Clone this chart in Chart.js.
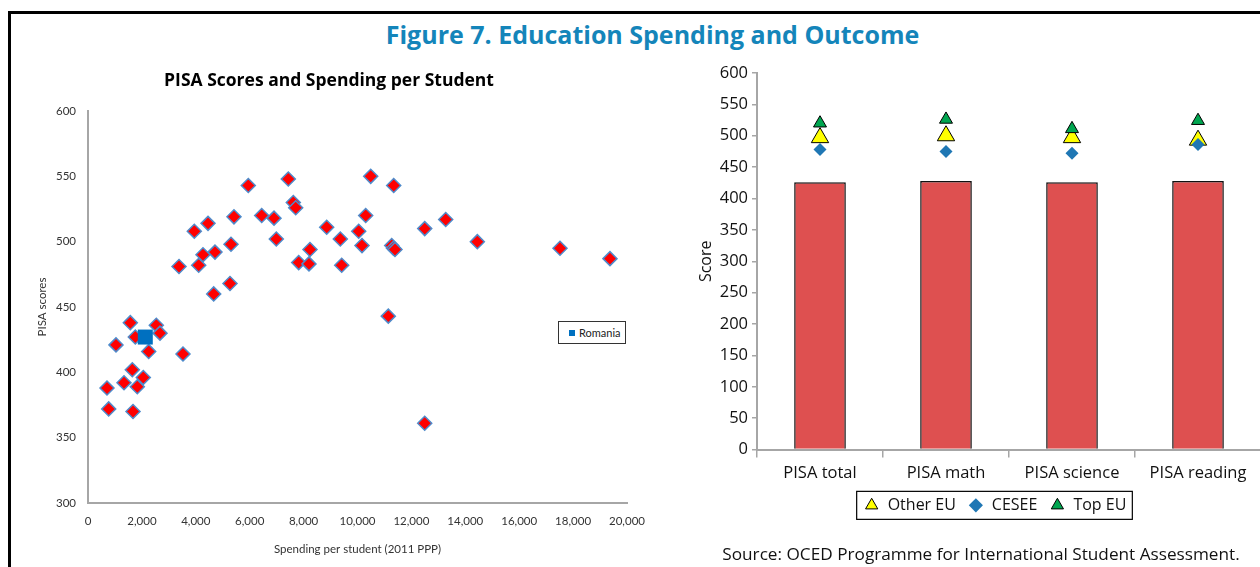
<!DOCTYPE html>
<html>
<head>
<meta charset="utf-8">
<script src="https://cdn.jsdelivr.net/npm/chart.js"></script>
<style>
  html, body { margin: 0; padding: 0; background: #fff; overflow: hidden; }
  #page { position: relative; width: 1260px; height: 567px; overflow: hidden; background: #fff; }
  #frame { position: absolute; left: 8px; top: 11px; width: 1300px; height: 600px; border: 3px solid #000; box-sizing: border-box; }
  #heading { position: absolute; left: 0; width: 1305px; top: 17px; text-align: center;
    font: bold 25px "Open Sans", sans-serif; color: #1485BA; }
  #scatter { position: absolute; left: 20px; top: 60px; }
  #pisa { position: absolute; left: 690px; top: 55px; }
  #romaniaKey { position: absolute; left: 558px; top: 321px; width: 68px; height: 23px; box-sizing: border-box;
    border: 1px solid #333; background: #fff; font: 11px Lato, sans-serif; color: #222;
    display: flex; align-items: center; padding-left: 10px; }
  #romaniaKey span { display: inline-block; width: 6px; height: 6px; background: #0070C0; margin-right: 4px; }
</style>
</head>
<body>
<div id="page">
  <div id="frame"></div>
  <div id="heading">Figure 7. Education Spending and Outcome</div>
  <canvas id="scatter" width="660" height="505"></canvas>
  <canvas id="pisa" width="582" height="512"></canvas>
  <div id="romaniaKey"><span></span>Romania</div>
</div>
<script>
// scatter: spending per student (2011 PPP) vs PISA score
const spending = [705, 768, 1039, 1336, 1570, 1644, 1670, 1755, 1829, 2052, 2252, 2534, 2672,
  3525, 3377, 3944, 4108, 4267, 4453, 4664, 4712, 5269, 5306, 5417, 5948, 6445, 6902, 6987,
  7432, 7618, 7707, 7818, 8200, 8237, 8857, 9362, 9414, 10045, 10167, 10304, 10490, 11143,
  11269, 11336, 11391, 11343, 12494, 12494, 13273, 14446, 17514, 19369];
const scores = [388, 372, 421, 392, 438, 402, 370, 427, 389, 396, 416, 436, 430,
  414, 481, 508, 482, 490, 514, 460, 492, 468, 498, 519, 543, 520, 518, 502,
  548, 530, 526, 484, 483, 494, 511, 502, 482, 508, 497, 520, 550, 443,
  497, 495, 494, 543, 510, 361, 517, 500, 495, 487];
const romaniaSpending = [2126];
const romaniaScore = [427];

// bar chart: PISA results by group
const subjects = ['PISA total', 'PISA math', 'PISA science', 'PISA reading'];
const romaniaPisa = [426, 428, 426, 428];
const otherEU = [497, 500, 497, 493];
const cesee = [478, 475, 472, 486];
const topEU = [520, 526, 511, 524];

const toPoints = (xs, ys) => xs.map((x, i) => ({ x: x, y: ys[i] }));

new Chart(document.getElementById('scatter'), {
  type: 'scatter',
  data: {
    datasets: [
      {
        label: 'Romania',
        data: toPoints(romaniaSpending, romaniaScore),
        pointStyle: 'rect',
        pointRadius: 10.6,
        backgroundColor: '#0070C0',
        borderColor: '#0070C0',
        borderWidth: 0
      },
      {
        label: 'Countries',
        data: toPoints(spending, scores),
        pointStyle: 'rectRot',
        pointRadius: 7,
        backgroundColor: '#FF0000',
        borderColor: '#4F8BCB',
        borderWidth: 1.5
      }
    ]
  },
  options: {
    responsive: false,
    animation: false,
    layout: { padding: { left: 11, right: 53, top: 0, bottom: 5 } },
    plugins: {
      legend: { display: false },
      tooltip: { enabled: false },
      title: {
        display: true,
        text: 'PISA Scores and Spending per Student',
        font: { family: 'Open Sans', size: 17.5, weight: 'bold' },
        color: '#000',
        padding: { top: 11, bottom: 19 }
      }
    },
    scales: {
      x: {
        type: 'linear',
        min: 0,
        max: 20000,
        afterFit: s => { s.height = 57; },
        ticks: {
          stepSize: 2000,
          autoSkip: false,
          maxRotation: 0,
          padding: 11,
          color: '#333',
          font: { family: 'Lato', size: 11.5 },
          callback: v => v.toLocaleString('en-US')
        },
        grid: { display: false, drawTicks: false },
        border: { color: '#A6A6A6', width: 2 },
        title: {
          display: true,
          text: 'Spending per student (2011 PPP)',
          color: '#333',
          font: { family: 'Lato', size: 11.5 }
        }
      },
      y: {
        min: 300,
        max: 600,
        afterFit: s => { s.width = 57; },
        ticks: {
          stepSize: 50,
          padding: 12,
          color: '#333',
          font: { family: 'Lato', size: 11.5 }
        },
        grid: { display: false, drawTicks: false },
        border: { color: '#A6A6A6', width: 2 },
        title: {
          display: true,
          text: 'PISA scores',
          color: '#333',
          font: { family: 'Lato', size: 11.5 }
        }
      }
    }
  }
});

// boxed legend, nudged to sit where the original one sits
const legendFrame = {
  id: 'legendFrame',
  afterLayout(chart) {
    const lg = chart.legend;
    if (!lg) return;
    lg.left += 14;
    lg.right += 14;
    lg.top -= 4;
    lg.bottom -= 4;
  },
  afterDraw(chart) {
    const boxes = chart.legend && chart.legend.legendHitBoxes;
    if (!boxes || !boxes.length) return;
    const ctx = chart.ctx;
    const left = Math.min(...boxes.map(b => b.left)) - 7;
    const right = Math.max(...boxes.map(b => b.left + b.width)) + 6;
    const top = Math.min(...boxes.map(b => b.top)) - 6;
    const bottom = Math.max(...boxes.map(b => b.top + b.height)) + 6;
    ctx.save();
    ctx.strokeStyle = '#000';
    ctx.lineWidth = 1.2;
    ctx.strokeRect(left, top, right - left, bottom - top);
    ctx.restore();
  }
};

new Chart(document.getElementById('pisa'), {
  type: 'bar',
  data: {
    labels: subjects,
    datasets: [
      {
        type: 'line',
        label: 'Other EU',
        data: otherEU,
        showLine: false,
        pointStyle: 'triangle',
        pointRadius: 10,
        backgroundColor: '#FFFF00',
        borderColor: '#000',
        borderWidth: 1,
        order: 2
      },
      {
        type: 'line',
        label: 'CESEE',
        data: cesee,
        showLine: false,
        pointStyle: 'rectRot',
        pointRadius: 6.5,
        backgroundColor: '#1F77B4',
        borderColor: '#1F77B4',
        borderWidth: 0,
        order: 1
      },
      {
        type: 'line',
        label: 'Top EU',
        data: topEU,
        showLine: false,
        pointStyle: 'triangle',
        pointRadius: 7.5,
        backgroundColor: '#00A650',
        borderColor: '#000',
        borderWidth: 1,
        order: 0
      },
      {
        type: 'bar',
        label: 'Romania',
        data: romaniaPisa,
        backgroundColor: '#DE5050',
        borderColor: '#111',
        borderWidth: 1.5,
        categoryPercentage: 0.5,
        barPercentage: 0.82,
        order: 3
      }
    ]
  },
  options: {
    responsive: false,
    animation: false,
    layout: { padding: { left: 0, right: 0, top: 18, bottom: 0 } },
    plugins: {
      tooltip: { enabled: false },
      legend: {
        position: 'bottom',
        labels: {
          usePointStyle: true,
          boxHeight: 10,
          padding: 12,
          color: '#111',
          font: { family: 'Open Sans', size: 16 },
          filter: item => item.text !== 'Romania',
          sort: (a, b) => a.datasetIndex - b.datasetIndex
        }
      },
      title: {
        display: true,
        position: 'bottom',
        text: 'Source: OCED Programme for International Student Assessment.',
        color: '#111',
        font: { family: 'Open Sans', size: 17.2, weight: 'normal' },
        padding: { top: 17, bottom: 2 }
      }
    },
    scales: {
      x: {
        ticks: { padding: 6, color: '#111', font: { family: 'Open Sans', size: 16.5 } },
        grid: { drawOnChartArea: false, tickLength: 8, color: '#A6A6A6', lineWidth: 1.5 },
        border: { color: '#A6A6A6', width: 2 }
      },
      y: {
        min: 0,
        max: 600,
        afterFit: s => { s.width = 67; },
        ticks: { stepSize: 50, padding: 4, color: '#111', font: { family: 'Open Sans', size: 16.5 } },
        grid: { drawOnChartArea: false, tickLength: 5, color: '#A6A6A6', lineWidth: 1.5 },
        border: { color: '#A6A6A6', width: 2 },
        title: {
          display: true,
          text: 'Score',
          color: '#111',
          font: { family: 'Open Sans', size: 16 },
          padding: { top: 7, bottom: 2 }
        }
      }
    }
  },
  plugins: [legendFrame]
});
</script>
</body>
</html>
